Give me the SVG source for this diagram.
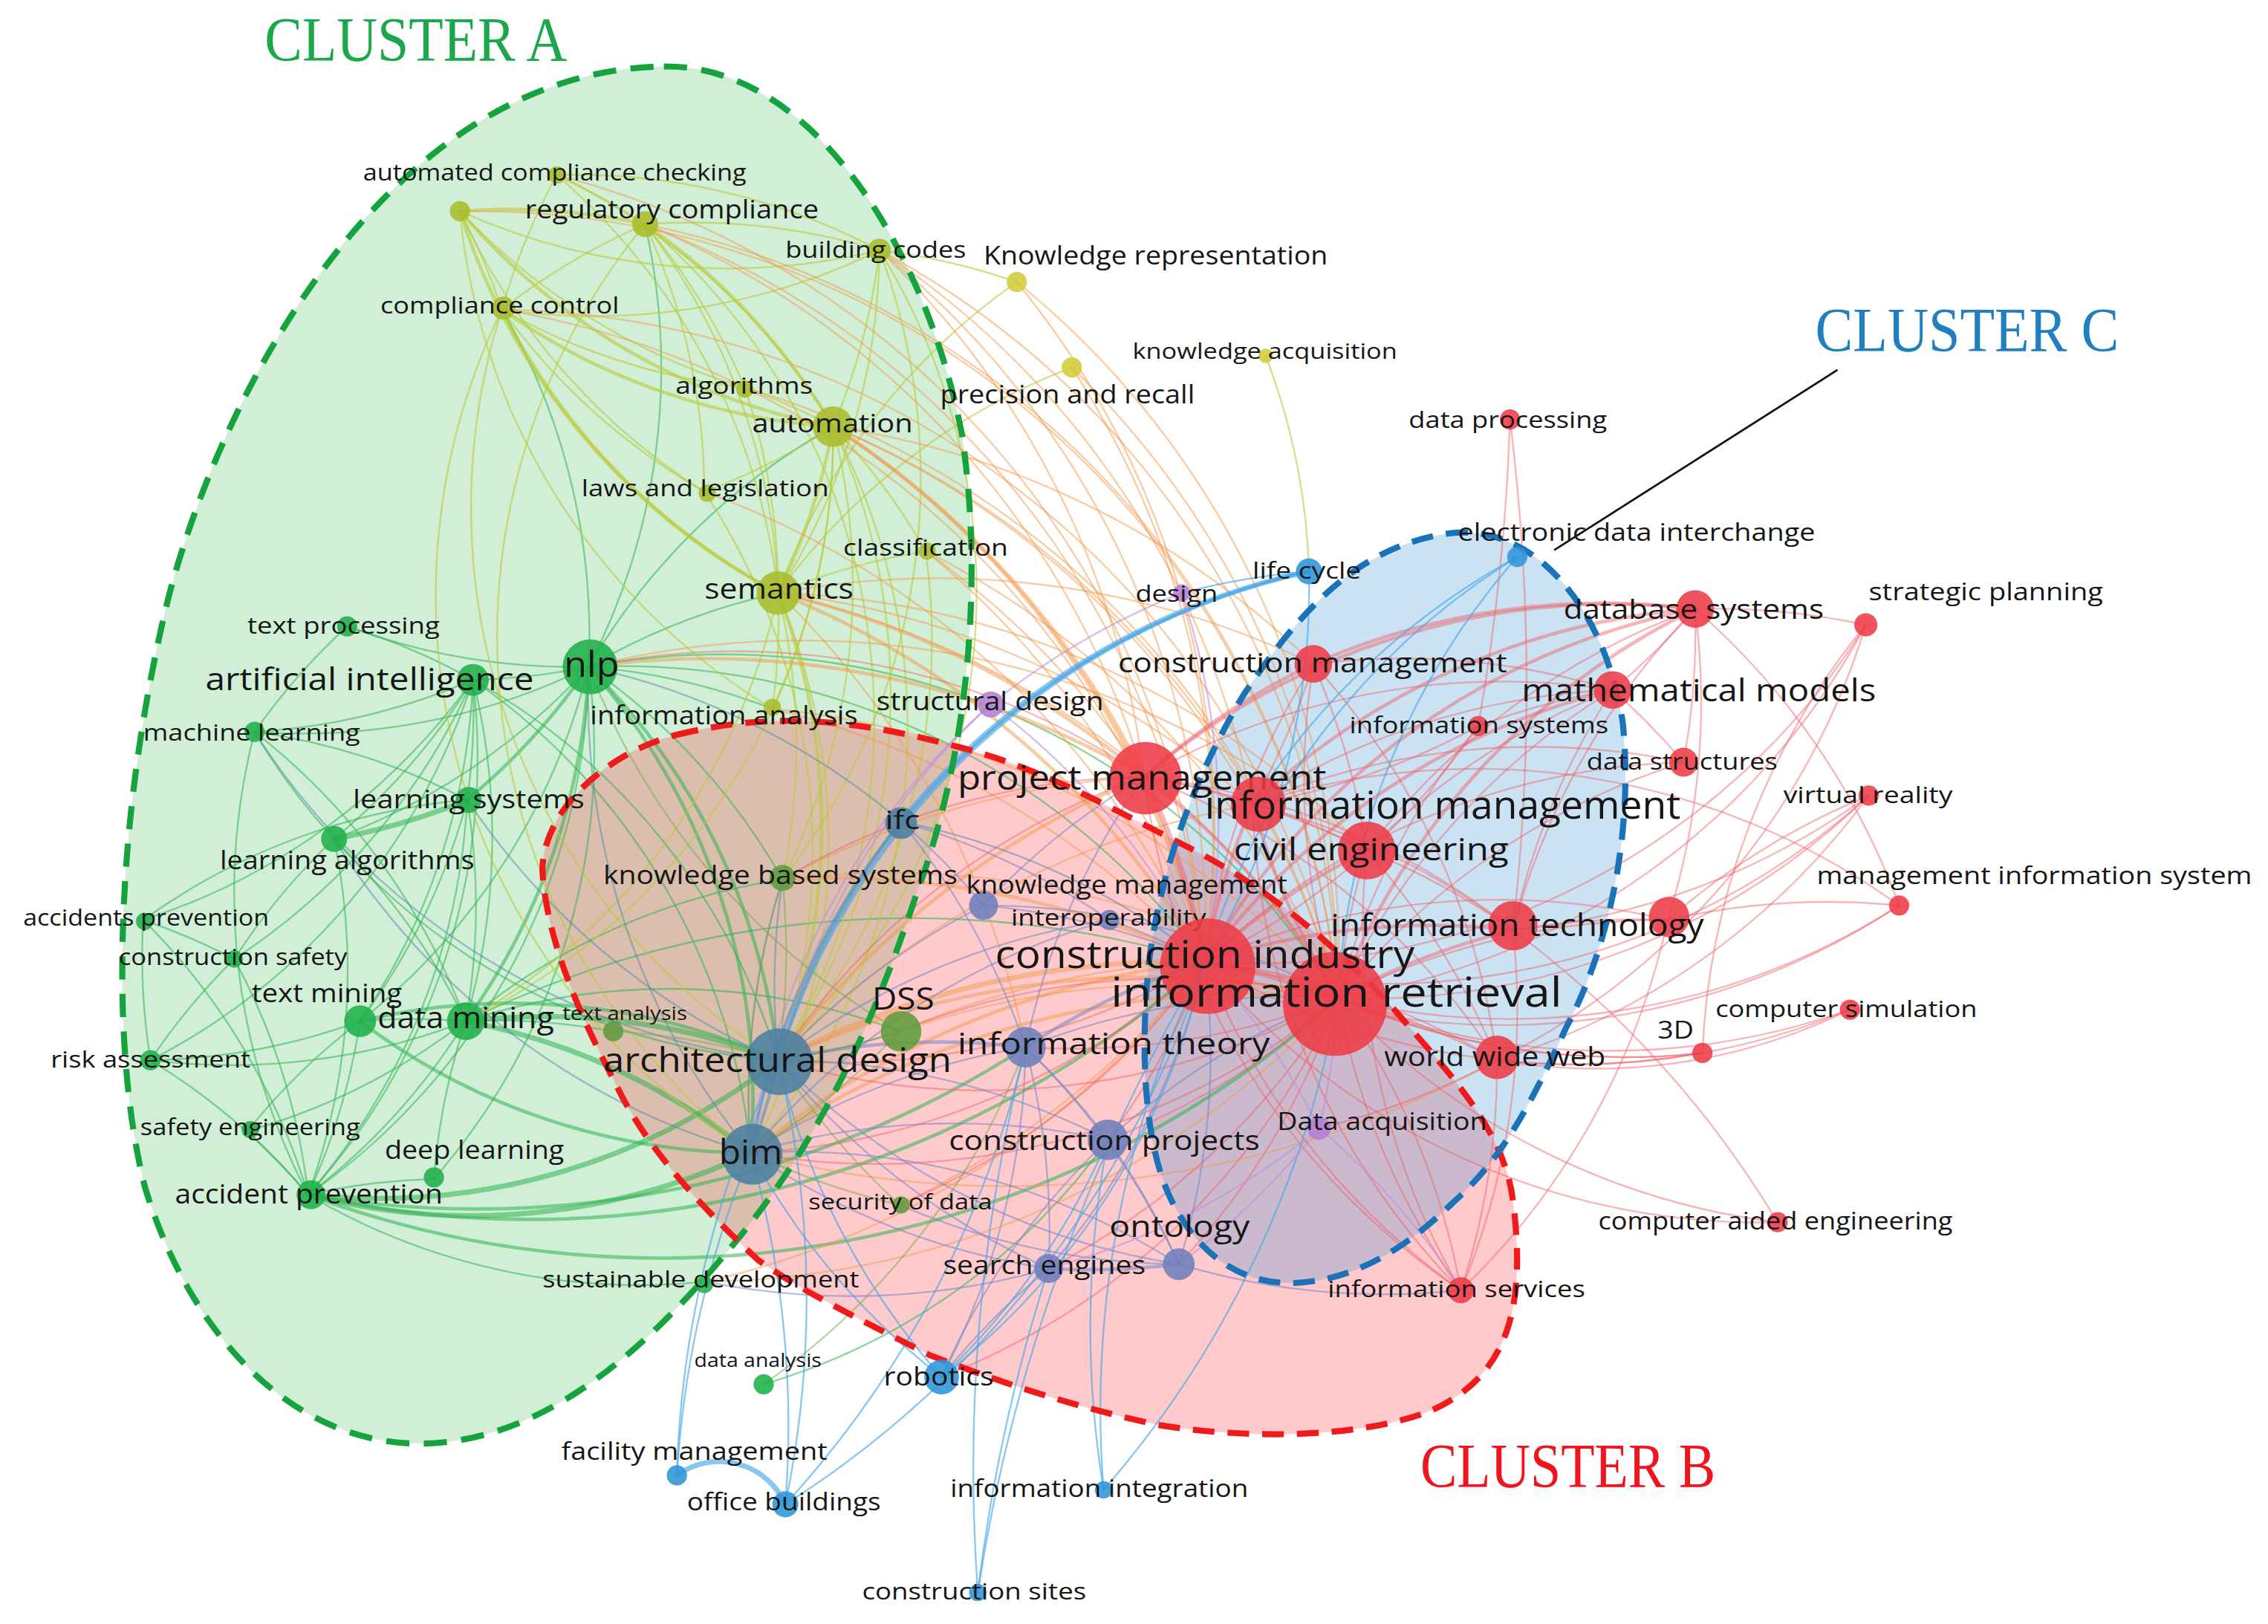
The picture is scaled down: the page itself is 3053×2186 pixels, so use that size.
<svg xmlns="http://www.w3.org/2000/svg" width="3053" height="2186" viewBox="0 0 3053 2186">
<style>
.l{font-family:"Open Sans","Liberation Sans",sans-serif;fill:#161616}
.cl{font-family:"Liberation Serif",serif}
.e path{fill:none;stroke-linecap:round;stroke-width:1.2}
.eg path{stroke:#2fb350;stroke-opacity:.55}
.ey path{stroke:#b9c93a;stroke-opacity:.6}
.eo path{stroke:#f19a4c;stroke-opacity:.5}
.er path{stroke:#f05a64;stroke-opacity:.45}
.es path{stroke:#7486c6;stroke-opacity:.55}
.est path{stroke:#4f88aa;stroke-opacity:.5}
.eb path{stroke:#4aa8e8;stroke-opacity:.65}
.ep path{stroke:#c08ee0;stroke-opacity:.6}
.eol path{stroke:#7aa84a;stroke-opacity:.5}
.e path.t2{stroke-width:2.4}
.e path.t3{stroke-width:3.6}
.cg{fill:#1fb04a}.cy{fill:#a9bd2b}.cyy{fill:#d2cc38}.co{fill:#5f9c3c}.cs{fill:#4b7fa0}
.cp{fill:#b47ed4}.cb{fill:#2c95d8}.csl{fill:#6d80bc}.cr{fill:#ee3b47}
circle{fill-opacity:.88}
.outline{fill:none;stroke-width:4.2}
</style>
<rect width="3053" height="2186" fill="#ffffff"/>
<g transform="scale(1.947)">
<g id="cluster-fills">
<path d="M459 46 C560 44 640 170 665 300 C680 400 670 520 634 617 C600 720 560 800 498 871 C440 940 370 998 290 998 C200 998 130 920 100 820 C75 720 80 560 117 411 C160 250 280 48 459 46 Z" fill="#2fb44a" fill-opacity=".22"/>
<path d="M468 508 C540 490 600 500 657 515 C720 530 770 560 822 586 C880 615 930 660 964 698 C1000 740 1040 780 1046 830 C1055 900 1045 950 990 975 C940 995 860 995 800 985 C740 972 690 955 643 937 C590 910 550 890 524 871 C480 830 445 790 426 750 C400 700 378 650 375 602 C375 560 420 520 468 508 Z" fill="#ff2a35" fill-opacity=".25"/>
<path d="M1000 369 C1060 360 1110 420 1122 500 C1130 580 1110 660 1083 710 C1060 760 1040 800 1005 831 C975 860 940 885 895 887 C860 888 830 870 810 830 C790 790 788 720 795 660 C805 590 830 530 860 480 C900 420 940 378 1000 369 Z" fill="#2e8bd0" fill-opacity=".25"/>
</g>
<g id="connectors" class="e">
<g class="eg">
<path d="M407 461A450 450 0 0 1 327 470"/><path d="M407 461A450 450 0 0 1 240 433"/><path d="M407 461A450 450 0 0 1 176 506"/>
<path d="M407 461A450 450 0 0 1 323 553" class="t2"/><path d="M407 461A450 450 0 0 1 231 580"/><path d="M407 461A450 450 0 0 1 322 706" class="t2"/>
<path d="M407 461A450 450 0 0 1 249 706"/><path d="M407 461A450 450 0 0 1 213 826"/><path d="M407 461A450 450 0 0 1 300 815"/>
<path d="M407 461A450 450 0 0 1 538 410"/><path d="M407 461A450 450 0 0 1 576 295"/><path d="M446 155A450 450 0 0 1 407 461"/>
<path d="M347 214A450 450 0 0 1 407 461"/><path d="M407 461A450 450 0 0 1 538 733" class="t2"/><path d="M407 461A450 450 0 0 1 519 797" class="t2"/>
<path d="M407 461A450 450 0 0 1 541 608"/><path d="M407 461A450 450 0 0 1 534 490"/><path d="M407 461A500 500 0 0 1 833 665"/>
<path d="M407 461A500 500 0 0 1 925 690"/><path d="M327 470A450 450 0 0 1 176 506"/><path d="M327 470A450 450 0 0 1 323 553"/>
<path d="M327 470A450 450 0 0 1 231 580"/><path d="M327 470A450 450 0 0 1 322 706"/><path d="M240 433A450 450 0 0 1 327 470"/>
<path d="M327 470A450 450 0 0 1 249 706"/><path d="M327 470A450 450 0 0 1 104 733"/><path d="M327 470A450 450 0 0 1 162 663"/>
<path d="M327 470A450 450 0 0 1 99 636"/><path d="M327 470A450 450 0 0 1 538 733"/><path d="M327 470A450 450 0 0 1 519 797"/>
<path d="M327 470A450 450 0 0 1 213 826"/><path d="M176 506A450 450 0 0 0 231 580"/><path d="M176 506A450 450 0 0 1 323 553"/>
<path d="M176 506A450 450 0 0 1 322 706"/><path d="M323 553A450 450 0 0 1 231 580" class="t3"/><path d="M323 553A450 450 0 0 1 322 706"/>
<path d="M323 553A450 450 0 0 1 249 706"/><path d="M231 580A450 450 0 0 1 322 706"/><path d="M249 706A450 450 0 0 1 322 706"/>
<path d="M322 706A450 450 0 0 1 213 826"/><path d="M322 706A450 450 0 0 1 171 782"/><path d="M322 706A450 450 0 0 1 104 733"/>
<path d="M322 706A450 450 0 0 1 538 733" class="t3"/><path d="M322 706A450 450 0 0 1 519 797" class="t3"/><path d="M322 706A450 450 0 0 1 424 713"/>
<path d="M249 706A450 450 0 0 1 213 826"/><path d="M249 706A450 450 0 0 1 104 733"/><path d="M104 733A450 450 0 0 1 213 826"/>
<path d="M171 782A450 450 0 0 1 213 826"/><path d="M162 663A450 450 0 0 1 213 826"/><path d="M99 636A450 450 0 0 1 213 826"/>
<path d="M213 826A450 450 0 0 0 538 733" class="t3"/><path d="M213 826A450 450 0 0 0 519 797" class="t3"/><path d="M213 826A450 450 0 0 1 300 815"/>
<path d="M300 815A450 450 0 0 1 322 706"/><path d="M104 733A450 450 0 0 1 162 663"/><path d="M99 636A450 450 0 0 1 162 663"/>
<path d="M99 636A450 450 0 0 1 323 553"/><path d="M162 663A450 450 0 0 1 231 580"/><path d="M171 782A450 450 0 0 1 249 706"/>
<path d="M249 706A450 450 0 0 1 538 733" class="t2"/><path d="M249 706A450 450 0 0 0 519 797" class="t2"/><path d="M322 706A450 450 0 0 1 622 713"/>
<path d="M213 826A450 450 0 0 0 488 886"/><path d="M322 706A450 450 0 0 1 541 608"/><path d="M231 580A450 450 0 0 0 538 733"/>
<path d="M213 826A700 700 0 0 0 925 690" class="t2"/><path d="M213 826A700 700 0 0 0 833 665" class="t2"/><path d="M322 706A700 700 0 0 1 833 665"/>
<path d="M176 506A450 450 0 0 0 213 826"/><path d="M240 433A450 450 0 0 0 176 506"/><path d="M323 553A450 450 0 0 1 213 826"/>
<path d="M231 580A450 450 0 0 1 213 826"/><path d="M99 636A450 450 0 0 0 104 733"/><path d="M213 826A700 700 0 0 0 709 724" class="t2"/>
<path d="M528 957A450 450 0 0 0 766 788"/>
</g>
<g class="ey">
<path d="M385 121A450 450 0 0 1 446 155"/><path d="M385 121A450 450 0 0 0 347 214"/><path d="M385 121A450 450 0 0 1 608 173"/>
<path d="M385 121A450 450 0 0 1 576 295"/><path d="M385 121A450 450 0 0 1 538 410"/><path d="M318 146A450 450 0 0 1 446 155" class="t2"/>
<path d="M318 146A450 450 0 0 1 347 214"/><path d="M318 146A450 450 0 0 0 576 295" class="t2"/><path d="M318 146A450 450 0 0 0 538 410" class="t2"/>
<path d="M318 146A450 450 0 0 0 487 340"/><path d="M318 146A450 450 0 0 0 608 173"/><path d="M318 146A450 450 0 0 0 515 268"/>
<path d="M318 146A450 450 0 0 0 534 490"/><path d="M446 155A450 450 0 0 1 608 173"/><path d="M446 155A450 450 0 0 0 347 214"/>
<path d="M446 155A450 450 0 0 1 576 295" class="t2"/><path d="M446 155A450 450 0 0 1 538 410"/><path d="M446 155A450 450 0 0 1 515 268"/>
<path d="M446 155A450 450 0 0 1 487 340"/><path d="M446 155A450 450 0 0 1 538 733"/><path d="M446 155A450 450 0 0 0 519 797"/>
<path d="M608 173A450 450 0 0 1 576 295"/><path d="M608 173A450 450 0 0 1 538 410"/><path d="M608 173A450 450 0 0 1 347 214"/>
<path d="M608 173A450 450 0 0 1 541 608"/><path d="M608 173A450 450 0 0 1 538 733"/><path d="M347 214A450 450 0 0 0 576 295" class="t2"/>
<path d="M347 214A450 450 0 0 0 487 340"/><path d="M347 214A450 450 0 0 0 538 410" class="t2"/><path d="M347 214A450 450 0 0 0 515 268"/>
<path d="M347 214A450 450 0 0 0 519 797"/><path d="M347 214A450 450 0 0 0 538 733"/><path d="M515 268A450 450 0 0 1 576 295"/>
<path d="M515 268A450 450 0 0 1 538 410"/><path d="M576 295A450 450 0 0 1 538 410" class="t2"/><path d="M576 295A450 450 0 0 1 487 340"/>
<path d="M576 295A450 450 0 0 1 640 381"/><path d="M576 295A450 450 0 0 1 538 733"/><path d="M576 295A450 450 0 0 1 519 797"/>
<path d="M576 295A450 450 0 0 1 534 490"/><path d="M576 295A450 450 0 0 1 541 608"/><path d="M538 410A450 450 0 0 1 534 490"/>
<path d="M538 410A450 450 0 0 1 640 381"/><path d="M538 410A450 450 0 0 1 538 733" class="t2"/><path d="M538 410A450 450 0 0 1 541 608"/>
<path d="M538 410A450 450 0 0 1 519 797"/><path d="M487 340A450 450 0 0 1 538 733"/><path d="M703 195A450 450 0 0 0 538 410"/>
<path d="M741 254A450 450 0 0 0 538 410"/><path d="M875 246A450 450 0 0 1 905 395"/><path d="M640 381A450 450 0 0 1 538 733"/>
<path d="M538 410A450 450 0 0 1 322 706"/><path d="M576 295A450 450 0 0 1 322 706"/><path d="M703 195A450 450 0 0 0 608 173"/>
</g>
<g class="eo">
<path d="M446 155A600 600 0 0 1 791 537"/><path d="M446 155A600 600 0 0 1 833 665"/><path d="M446 155A600 600 0 0 1 925 690"/>
<path d="M608 173A600 600 0 0 1 791 537"/><path d="M608 173A600 600 0 0 1 833 665"/><path d="M608 173A600 600 0 0 1 925 690"/>
<path d="M347 214A600 600 0 0 1 925 690"/><path d="M347 214A600 600 0 0 1 833 665"/><path d="M576 295A600 600 0 0 1 791 537" class="t2"/>
<path d="M576 295A600 600 0 0 1 833 665" class="t2"/><path d="M576 295A600 600 0 0 1 925 690"/><path d="M576 295A600 600 0 0 1 866 556"/>
<path d="M538 410A600 600 0 0 1 791 537" class="t2"/><path d="M538 410A600 600 0 0 1 833 665" class="t2"/><path d="M538 410A600 600 0 0 1 925 690"/>
<path d="M538 410A600 600 0 0 1 866 556"/><path d="M538 410A600 600 0 0 1 709 724"/><path d="M640 381A600 600 0 0 1 833 665"/>
<path d="M640 381A600 600 0 0 1 925 690"/><path d="M741 254A600 600 0 0 1 925 690"/><path d="M741 254A600 600 0 0 1 833 665"/>
<path d="M703 195A600 600 0 0 1 833 665"/><path d="M703 195A600 600 0 0 1 925 690"/><path d="M487 340A600 600 0 0 1 833 665"/>
<path d="M515 268A600 600 0 0 1 925 690"/><path d="M534 490A600 600 0 0 1 925 690"/><path d="M534 490A600 600 0 0 1 833 665"/>
<path d="M385 121A600 600 0 0 1 833 665"/><path d="M318 146A600 600 0 0 1 925 690"/><path d="M538 410A600 600 0 0 1 908 459"/>
<path d="M576 295A600 600 0 0 1 908 459"/><path d="M541 608A600 600 0 0 1 833 665" class="t2"/><path d="M541 608A600 600 0 0 1 925 690"/>
<path d="M622 713A600 600 0 0 1 833 665"/><path d="M622 713A600 600 0 0 1 925 690"/><path d="M538 733A600 600 0 0 1 833 665" class="t3"/>
<path d="M538 733A600 600 0 0 1 925 690" class="t2"/><path d="M519 797A600 600 0 0 1 925 690" class="t2"/><path d="M519 797A600 600 0 0 1 833 665" class="t2"/>
<path d="M538 733A600 600 0 0 1 791 537" class="t2"/><path d="M538 733A600 600 0 0 1 866 556"/><path d="M541 608A600 600 0 0 1 791 537"/>
<path d="M407 461A600 600 0 0 1 791 537" class="t2"/><path d="M538 410A600 600 0 0 1 945 588"/><path d="M608 173A600 600 0 0 1 866 556"/>
<path d="M640 381A600 600 0 0 1 791 537"/><path d="M622 833A600 600 0 0 0 833 665"/><path d="M488 886A600 600 0 0 0 925 690"/>
<path d="M488 886A600 600 0 0 0 833 665"/><path d="M407 461A600 600 0 0 1 945 588"/><path d="M519 797A700 700 0 0 0 1035 733"/>
</g>
<g class="er">
<path d="M791 537A500 500 0 0 1 833 665" class="t3"/><path d="M791 537A500 500 0 0 1 925 690" class="t2"/><path d="M791 537A500 500 0 0 1 866 556"/>
<path d="M791 537A500 500 0 0 1 945 588"/><path d="M791 537A500 500 0 0 1 908 459" class="t2"/><path d="M791 537A500 500 0 0 1 1046 643"/>
<path d="M791 537A500 500 0 0 1 1035 733"/><path d="M791 537A500 500 0 0 1 1172 421" class="t2"/><path d="M791 537A500 500 0 0 1 1115 477"/>
<path d="M833 665A500 500 0 0 1 925 690" class="t3"/><path d="M833 665A500 500 0 0 1 866 556" class="t2"/><path d="M833 665A500 500 0 0 1 945 588" class="t2"/>
<path d="M833 665A500 500 0 0 1 1046 643" class="t2"/><path d="M833 665A500 500 0 0 1 908 459"/><path d="M833 665A500 500 0 0 1 1172 421" class="t2"/>
<path d="M833 665A500 500 0 0 1 1115 477" class="t2"/><path d="M833 665A500 500 0 0 1 1035 733"/><path d="M833 665A500 500 0 0 1 1164 527"/>
<path d="M833 665A500 500 0 0 1 1153 636"/><path d="M925 690A500 500 0 0 1 866 556" class="t2"/><path d="M925 690A500 500 0 0 1 945 588"/>
<path d="M925 690A500 500 0 0 1 1046 643" class="t2"/><path d="M925 690A500 500 0 0 1 1035 733"/><path d="M925 690A500 500 0 0 1 1172 421" class="t2"/>
<path d="M925 690A500 500 0 0 1 1115 477"/><path d="M925 690A500 500 0 0 1 908 459"/><path d="M925 690A500 500 0 0 1 1022 502"/>
<path d="M925 690A500 500 0 0 1 1164 527"/><path d="M925 690A500 500 0 0 1 1010 892"/><path d="M925 690A500 500 0 0 1 1153 636"/>
<path d="M925 690A500 500 0 0 0 1177 728"/><path d="M866 556A500 500 0 0 1 945 588"/><path d="M866 556A500 500 0 0 1 1046 643"/>
<path d="M866 556A500 500 0 0 1 1172 421" class="t2"/><path d="M866 556A500 500 0 0 1 1115 477"/><path d="M866 556A500 500 0 0 1 1164 527"/>
<path d="M908 459A500 500 0 0 1 1172 421" class="t2"/><path d="M908 459A500 500 0 0 1 1115 477"/><path d="M908 459A500 500 0 0 1 866 556"/>
<path d="M908 459A500 500 0 0 1 945 588"/><path d="M945 588A500 500 0 0 1 1046 643"/><path d="M945 588A500 500 0 0 1 1172 421"/>
<path d="M945 588A500 500 0 0 1 1115 477"/><path d="M945 588A500 500 0 0 1 1035 733"/><path d="M1046 643A500 500 0 0 1 1172 421"/>
<path d="M1046 643A500 500 0 0 1 1115 477"/><path d="M1046 643A500 500 0 0 1 1153 636"/><path d="M1172 421A500 500 0 0 1 1115 477"/>
<path d="M1172 421A500 500 0 0 1 1290 432"/><path d="M1172 421A500 500 0 0 1 1164 527"/><path d="M1115 477A500 500 0 0 1 1164 527"/>
<path d="M1022 502A500 500 0 0 1 833 665"/><path d="M1022 502A500 500 0 0 1 866 556"/><path d="M1044 290A1500 1500 0 0 1 1022 502"/>
<path d="M1044 290A1500 1500 0 0 1 1046 643"/><path d="M1290 432A500 500 0 0 1 925 690"/><path d="M1290 432A500 500 0 0 1 833 665"/>
<path d="M1290 432A500 500 0 0 1 1035 733"/><path d="M1292 550A500 500 0 0 1 833 665"/><path d="M1292 550A500 500 0 0 1 925 690"/>
<path d="M1292 550A500 500 0 0 1 1046 643"/><path d="M1292 550A500 500 0 0 1 1035 733"/><path d="M1313 626A500 500 0 0 1 833 665"/>
<path d="M1313 626A500 500 0 0 1 925 690"/><path d="M1313 626A500 500 0 0 0 866 556"/><path d="M1313 626A500 500 0 0 0 1172 421"/>
<path d="M1279 698A500 500 0 0 1 1177 728"/><path d="M1279 698A400 400 0 0 1 1035 733"/><path d="M1279 698A500 500 0 0 1 925 690"/>
<path d="M1177 728A500 500 0 0 1 925 690"/><path d="M1177 728A500 500 0 0 1 833 665"/><path d="M1177 728A500 500 0 0 1 1035 733"/>
<path d="M1229 845A500 500 0 0 1 925 690"/><path d="M1229 845A500 500 0 0 1 833 665"/><path d="M1229 845A700 700 0 0 0 1046 643"/>
<path d="M1010 892A500 500 0 0 1 925 690"/><path d="M1010 892A500 500 0 0 1 833 665"/><path d="M1010 892A500 500 0 0 1 945 588"/>
<path d="M1010 892A500 500 0 0 1 866 556"/><path d="M1010 892A500 500 0 0 0 1046 643"/><path d="M1010 892A500 500 0 0 1 791 537"/>
<path d="M1010 892A500 500 0 0 0 1035 733"/><path d="M1010 892A500 500 0 0 0 1153 636"/><path d="M791 537A500 500 0 0 0 538 733"/>
<path d="M791 537A500 500 0 0 0 407 461"/><path d="M925 690A500 500 0 0 1 538 733"/><path d="M833 665A500 500 0 0 1 538 733"/>
<path d="M833 665A500 500 0 0 1 519 797"/><path d="M925 690A500 500 0 0 1 519 797"/><path d="M925 690A500 500 0 0 0 622 713"/>
<path d="M833 665A500 500 0 0 1 622 833"/><path d="M925 690A500 500 0 0 1 651 952"/><path d="M791 537A500 500 0 0 0 541 608"/>
<path d="M925 690A500 500 0 0 1 766 788"/><path d="M925 690A500 500 0 0 1 709 724"/><path d="M833 665A500 500 0 0 1 766 788"/>
<path d="M925 690A500 500 0 0 1 815 874"/><path d="M925 690A500 500 0 0 1 725 877"/><path d="M1035 733A500 500 0 0 1 912 780"/>
<path d="M1153 636A500 500 0 0 1 1313 626"/><path d="M1153 636A500 500 0 0 0 1172 421"/><path d="M1290 432A500 500 0 0 0 1177 728"/>
<path d="M1292 550A500 500 0 0 0 1153 636"/><path d="M1022 502A500 500 0 0 1 1115 477"/><path d="M908 459A500 500 0 0 1 1035 733"/>
</g>
<g class="es">
<path d="M709 724A500 500 0 0 1 833 665" class="t2"/><path d="M709 724A500 500 0 0 0 538 733" class="t2"/><path d="M709 724A500 500 0 0 0 519 797"/>
<path d="M709 724A500 500 0 0 1 791 537"/><path d="M709 724A500 500 0 0 0 623 568"/><path d="M766 788A500 500 0 0 0 538 733"/>
<path d="M766 788A500 500 0 0 0 519 797"/><path d="M766 788A500 500 0 0 0 709 724"/><path d="M815 874A500 500 0 0 0 833 665"/>
<path d="M815 874A500 500 0 0 1 725 877" class="t2"/><path d="M815 874A500 500 0 0 0 766 788"/><path d="M815 874A500 500 0 0 0 709 724"/>
<path d="M815 874A500 500 0 0 1 538 733"/><path d="M815 874A500 500 0 0 0 1010 892"/><path d="M725 877A500 500 0 0 0 833 665"/>
<path d="M725 877A500 500 0 0 1 538 733"/><path d="M725 877A500 500 0 0 1 519 797"/><path d="M725 877A500 500 0 0 0 709 724"/>
<path d="M680 626A500 500 0 0 1 833 665"/><path d="M680 626A500 500 0 0 0 538 733"/><path d="M680 626A500 500 0 0 1 925 690"/>
<path d="M680 626A500 500 0 0 1 791 537"/><path d="M680 626A500 500 0 0 0 623 568"/><path d="M767 636A500 500 0 0 1 833 665"/>
<path d="M767 636A500 500 0 0 0 538 733"/><path d="M767 636A500 500 0 0 0 519 797"/><path d="M767 636A500 500 0 0 0 623 568"/>
<path d="M766 788A500 500 0 0 0 651 952"/><path d="M725 877A500 500 0 0 0 651 952"/><path d="M709 724A500 500 0 0 1 651 952"/>
<path d="M815 874A500 500 0 0 0 519 797"/><path d="M766 788A500 500 0 0 1 925 690"/><path d="M709 724A500 500 0 0 1 925 690"/>
<path d="M815 874A500 500 0 0 1 622 833"/><path d="M725 877A500 500 0 0 1 488 886"/>
</g>
<g class="est">
<path d="M623 568A500 500 0 0 0 538 733" class="t2"/><path d="M623 568A500 500 0 0 0 519 797" class="t2"/><path d="M623 568A500 500 0 0 1 833 665"/>
<path d="M538 733A500 500 0 0 1 519 797" class="t2"/><path d="M538 733A500 500 0 0 1 541 608"/><path d="M519 797A500 500 0 0 1 541 608"/>
<path d="M538 733A500 500 0 0 1 323 553"/><path d="M538 733A500 500 0 0 0 622 713"/><path d="M519 797A500 500 0 0 1 407 461"/>
<path d="M538 733A500 500 0 0 1 176 506"/><path d="M519 797A500 500 0 0 1 231 580"/><path d="M623 568A500 500 0 0 0 407 461"/>
</g>
<g class="eb">
<path d="M651 952A500 500 0 0 1 538 733"/><path d="M651 952A500 500 0 0 1 519 797"/><path d="M651 952A500 500 0 0 0 833 665"/>
<path d="M651 952A500 500 0 0 0 766 788"/><path d="M468 1020A50 50 0 0 1 543 1040" class="t3"/><path d="M468 1020A700 700 0 0 1 538 733"/>
<path d="M468 1020A700 700 0 0 1 519 797"/><path d="M543 1040A700 700 0 0 0 538 733"/><path d="M543 1040A700 700 0 0 0 519 797"/>
<path d="M543 1040A700 700 0 0 0 833 665"/><path d="M543 1040A700 700 0 0 0 709 724"/><path d="M763 1030A700 700 0 0 0 925 690"/>
<path d="M763 1030A700 700 0 0 1 833 665"/><path d="M763 1030A700 700 0 0 1 766 788"/><path d="M676 1101A1200 1200 0 0 1 725 877"/>
<path d="M676 1101A1200 1200 0 0 1 709 724"/><path d="M676 1101A1200 1200 0 0 1 833 665"/><path d="M905 395A500 500 0 0 0 623 568" class="t3"/>
<path d="M905 395A500 500 0 0 0 538 733" class="t2"/><path d="M905 395A500 500 0 0 0 519 797"/><path d="M905 395A500 500 0 0 1 833 665"/>
<path d="M1049 385A500 500 0 0 0 925 690"/><path d="M1049 385A500 500 0 0 0 833 665"/><path d="M905 395A500 500 0 0 0 817 410"/>
<path d="M1049 385A500 500 0 0 0 866 556"/>
</g>
<g class="ep">
<path d="M817 410A500 500 0 0 0 685 487"/><path d="M817 410A500 500 0 0 1 833 665"/><path d="M685 487A500 500 0 0 0 538 733"/>
<path d="M685 487A500 500 0 0 1 833 665"/><path d="M685 487A500 500 0 0 0 519 797"/><path d="M912 780A500 500 0 0 0 925 690"/>
<path d="M912 780A500 500 0 0 0 833 665"/><path d="M912 780A500 500 0 0 1 815 874"/><path d="M912 780A500 500 0 0 1 1010 892"/>
<path d="M912 780A500 500 0 0 1 725 877"/>
</g>
<g class="eol">
<path d="M622 713A500 500 0 0 1 538 733"/><path d="M622 713A500 500 0 0 1 519 797"/><path d="M622 713A500 500 0 0 1 407 461"/>
<path d="M424 713A500 500 0 0 1 538 733"/><path d="M622 833A500 500 0 0 1 538 733"/><path d="M622 833A500 500 0 0 1 519 797"/>
<path d="M541 608A500 500 0 0 1 538 733"/><path d="M541 608A500 500 0 0 0 519 797"/><path d="M528 957A500 500 0 0 0 709 724"/>
</g>
<path d="M1270 256L1075 380" style="stroke:#111;stroke-width:1.4"/>
</g>
<g id="cluster-outlines">
<path class="outline" d="M459 46 C560 44 640 170 665 300 C680 400 670 520 634 617 C600 720 560 800 498 871 C440 940 370 998 290 998 C200 998 130 920 100 820 C75 720 80 560 117 411 C160 250 280 48 459 46 Z" stroke="#14a33c" stroke-dasharray="16 10"/>
<path class="outline" d="M468 508 C540 490 600 500 657 515 C720 530 770 560 822 586 C880 615 930 660 964 698 C1000 740 1040 780 1046 830 C1055 900 1045 950 990 975 C940 995 860 995 800 985 C740 972 690 955 643 937 C590 910 550 890 524 871 C480 830 445 790 426 750 C400 700 378 650 375 602 C375 560 420 520 468 508 Z" stroke="#f01a1a" stroke-dasharray="15 9"/>
<path class="outline" d="M1000 369 C1060 360 1110 420 1122 500 C1130 580 1110 660 1083 710 C1060 760 1040 800 1005 831 C975 860 940 885 895 887 C860 888 830 870 810 830 C790 790 788 720 795 660 C805 590 830 530 860 480 C900 420 940 378 1000 369 Z" stroke="#1a73b8" stroke-dasharray="15 9"/>
</g>
<g id="nodes">
<g id="n-acc2"><circle class="cy" cx="318" cy="146" r="7"/></g>
<g id="n-acc"><circle class="cy" cx="385" cy="121" r="6"/><text class="l" x="251" y="125" font-size="16" textLength="265" lengthAdjust="spacingAndGlyphs">automated compliance checking</text></g>
<g id="n-reg"><circle class="cy" cx="446" cy="155" r="9"/><text class="l" x="363" y="151" font-size="18" textLength="203" lengthAdjust="spacingAndGlyphs">regulatory compliance</text></g>
<g id="n-bc"><circle class="cy" cx="608" cy="173" r="8"/><text class="l" x="543" y="178" font-size="16" textLength="125" lengthAdjust="spacingAndGlyphs">building codes</text></g>
<g id="n-kr"><circle class="cyy" cx="703" cy="195" r="7"/><text class="l" x="680" y="183" font-size="18" textLength="238" lengthAdjust="spacingAndGlyphs">Knowledge representation</text></g>
<g id="n-cc"><circle class="cy" cx="348" cy="213" r="8"/><text class="l" x="263" y="217" font-size="16" textLength="165" lengthAdjust="spacingAndGlyphs">compliance control</text></g>
<g id="n-alg"><circle class="cy" cx="515" cy="269" r="6"/><text class="l" x="467" y="272" font-size="16" textLength="95" lengthAdjust="spacingAndGlyphs">algorithms</text></g>
<g id="n-aut"><circle class="cy" cx="576" cy="295" r="14"/><text class="l" x="520" y="299" font-size="18" textLength="111" lengthAdjust="spacingAndGlyphs">automation</text></g>
<g id="n-pr"><circle class="cyy" cx="741" cy="254" r="7"/><text class="l" x="650" y="279" font-size="18" textLength="176" lengthAdjust="spacingAndGlyphs">precision and recall</text></g>
<g id="n-ka"><circle class="cyy" cx="875" cy="246" r="5"/><text class="l" x="783" y="248" font-size="15" textLength="183" lengthAdjust="spacingAndGlyphs">knowledge acquisition</text></g>
<g id="n-law"><circle class="cy" cx="489" cy="341" r="6"/><text class="l" x="402" y="343" font-size="16" textLength="171" lengthAdjust="spacingAndGlyphs">laws and legislation</text></g>
<g id="n-cls"><circle class="cy" cx="641" cy="381" r="6"/><text class="l" x="583" y="384" font-size="16" textLength="114" lengthAdjust="spacingAndGlyphs">classification</text></g>
<g id="n-sem"><circle class="cy" cx="538" cy="410" r="15"/><text class="l" x="487" y="414" font-size="20" textLength="103" lengthAdjust="spacingAndGlyphs">semantics</text></g>
<g id="n-ia"><circle class="cy" cx="534" cy="489" r="6"/><text class="l" x="408" y="501" font-size="18" textLength="185" lengthAdjust="spacingAndGlyphs">information analysis</text></g>
<g id="n-tp"><circle class="cg" cx="240" cy="433" r="7"/><text class="l" x="171" y="438" font-size="16" textLength="133" lengthAdjust="spacingAndGlyphs">text processing</text></g>
<g id="n-ai"><circle class="cg" cx="327" cy="470" r="11"/><text class="l" x="142" y="477" font-size="22" textLength="227" lengthAdjust="spacingAndGlyphs">artificial intelligence</text></g>
<g id="n-nlp"><circle class="cg" cx="408" cy="461" r="19"/><text class="l" x="390" y="468" font-size="24" textLength="38" lengthAdjust="spacingAndGlyphs">nlp</text></g>
<g id="n-ml"><circle class="cg" cx="176" cy="506" r="7"/><text class="l" x="99" y="512" font-size="16" textLength="150" lengthAdjust="spacingAndGlyphs">machine learning</text></g>
<g id="n-ls"><circle class="cg" cx="324" cy="553" r="9"/><text class="l" x="244" y="559" font-size="18" textLength="160" lengthAdjust="spacingAndGlyphs">learning systems</text></g>
<g id="n-la"><circle class="cg" cx="231" cy="580" r="9"/><text class="l" x="152" y="601" font-size="18" textLength="176" lengthAdjust="spacingAndGlyphs">learning algorithms</text></g>
<g id="n-ap1"><circle class="cg" cx="100" cy="637" r="6"/><text class="l" x="16" y="640" font-size="16" textLength="170" lengthAdjust="spacingAndGlyphs">accidents prevention</text></g>
<g id="n-cs"><circle class="cg" cx="162" cy="663" r="6"/><text class="l" x="82" y="667" font-size="16" textLength="158" lengthAdjust="spacingAndGlyphs">construction safety</text></g>
<g id="n-tm"><circle class="cg" cx="249" cy="706" r="11"/><text class="l" x="174" y="693" font-size="18" textLength="104" lengthAdjust="spacingAndGlyphs">text mining</text></g>
<g id="n-dm"><circle class="cg" cx="322" cy="706" r="13"/><text class="l" x="261" y="711" font-size="21" textLength="122" lengthAdjust="spacingAndGlyphs">data mining</text></g>
<g id="n-rsk"><circle class="cg" cx="104" cy="733" r="7"/><text class="l" x="35" y="738" font-size="16" textLength="138" lengthAdjust="spacingAndGlyphs">risk assessment</text></g>
<g id="n-se"><circle class="cg" cx="173" cy="781" r="6"/><text class="l" x="97" y="785" font-size="16" textLength="152" lengthAdjust="spacingAndGlyphs">safety engineering</text></g>
<g id="n-dl"><circle class="cg" cx="300" cy="814" r="7"/><text class="l" x="266" y="801" font-size="18" textLength="124" lengthAdjust="spacingAndGlyphs">deep learning</text></g>
<g id="n-ap"><circle class="cg" cx="215" cy="826" r="10"/><text class="l" x="121" y="832" font-size="19" textLength="185" lengthAdjust="spacingAndGlyphs">accident prevention</text></g>
<g id="n-sd"><circle class="cg" cx="487" cy="888" r="6"/><text class="l" x="375" y="890" font-size="16" textLength="219" lengthAdjust="spacingAndGlyphs">sustainable development</text></g>
<g id="n-da"><circle class="cg" cx="528" cy="957" r="7"/><text class="l" x="480" y="945" font-size="13" textLength="88" lengthAdjust="spacingAndGlyphs">data analysis</text></g>
<g id="n-kbs"><circle class="co" cx="541" cy="607" r="9"/><text class="l" x="417" y="611" font-size="18" textLength="245" lengthAdjust="spacingAndGlyphs">knowledge based systems</text></g>
<g id="n-ta"><circle class="co" cx="424" cy="713" r="7"/><text class="l" x="389" y="705" font-size="13" textLength="86" lengthAdjust="spacingAndGlyphs">text analysis</text></g>
<g id="n-dss"><circle class="co" cx="623" cy="713" r="14"/><text class="l" x="603" y="698" font-size="22" textLength="43" lengthAdjust="spacingAndGlyphs">DSS</text></g>
<g id="n-sod"><circle class="co" cx="623" cy="833" r="6"/><text class="l" x="559" y="836" font-size="15" textLength="127" lengthAdjust="spacingAndGlyphs">security of data</text></g>
<g id="n-ifc"><circle class="cs" cx="623" cy="569" r="11"/><text class="l" x="612" y="573" font-size="18" textLength="24" lengthAdjust="spacingAndGlyphs">ifc</text></g>
<g id="n-ad"><circle class="cs" cx="539" cy="734" r="23"/><text class="l" x="417" y="741" font-size="23" textLength="241" lengthAdjust="spacingAndGlyphs">architectural design</text></g>
<g id="n-bim"><circle class="cs" cx="520" cy="798" r="21"/><text class="l" x="497" y="805" font-size="23" textLength="44" lengthAdjust="spacingAndGlyphs">bim</text></g>
<g id="n-des"><circle class="cp" cx="817" cy="410" r="6"/><text class="l" x="785" y="416" font-size="16" textLength="57" lengthAdjust="spacingAndGlyphs">design</text></g>
<g id="n-sdn"><circle class="cp" cx="685" cy="487" r="9"/><text class="l" x="606" y="491" font-size="18" textLength="157" lengthAdjust="spacingAndGlyphs">structural design</text></g>
<g id="n-dacq"><circle class="cp" cx="912" cy="780" r="8"/><text class="l" x="883" y="781" font-size="17" textLength="145" lengthAdjust="spacingAndGlyphs">Data acquisition</text></g>
<g id="n-lc"><circle class="cb" cx="905" cy="395" r="9"/><text class="l" x="866" y="400" font-size="16" textLength="75" lengthAdjust="spacingAndGlyphs">life cycle</text></g>
<g id="n-edi"><circle class="cb" cx="1049" cy="385" r="7"/><text class="l" x="1008" y="374" font-size="17" textLength="247" lengthAdjust="spacingAndGlyphs">electronic data interchange</text></g>
<g id="n-rob"><circle class="cb" cx="651" cy="952" r="12"/><text class="l" x="611" y="958" font-size="18" textLength="76" lengthAdjust="spacingAndGlyphs">robotics</text></g>
<g id="n-fm"><circle class="cb" cx="468" cy="1020" r="7"/><text class="l" x="388" y="1009" font-size="17" textLength="184" lengthAdjust="spacingAndGlyphs">facility management</text></g>
<g id="n-ob"><circle class="cb" cx="543" cy="1040" r="9"/><text class="l" x="475" y="1044" font-size="17" textLength="134" lengthAdjust="spacingAndGlyphs">office buildings</text></g>
<g id="n-ii"><circle class="cb" cx="763" cy="1030" r="6"/><text class="l" x="657" y="1035" font-size="17" textLength="206" lengthAdjust="spacingAndGlyphs">information integration</text></g>
<g id="n-cst"><circle class="cb" cx="676" cy="1101" r="6"/><text class="l" x="596" y="1106" font-size="16" textLength="155" lengthAdjust="spacingAndGlyphs">construction sites</text></g>
<g id="n-km"><circle class="csl" cx="680" cy="626" r="10"/><text class="l" x="668" y="618" font-size="18" textLength="222" lengthAdjust="spacingAndGlyphs">knowledge management</text></g>
<g id="n-iop"><circle class="csl" cx="767" cy="636" r="7"/><text class="l" x="699" y="640" font-size="16" textLength="135" lengthAdjust="spacingAndGlyphs">interoperability</text></g>
<g id="n-it"><circle class="csl" cx="709" cy="724" r="14"/><text class="l" x="662" y="729" font-size="21" textLength="216" lengthAdjust="spacingAndGlyphs">information theory</text></g>
<g id="n-cp"><circle class="csl" cx="766" cy="788" r="14"/><text class="l" x="656" y="795" font-size="19" textLength="215" lengthAdjust="spacingAndGlyphs">construction projects</text></g>
<g id="n-ont"><circle class="csl" cx="815" cy="874" r="11"/><text class="l" x="767" y="855" font-size="21" textLength="97" lengthAdjust="spacingAndGlyphs">ontology</text></g>
<g id="n-seng"><circle class="csl" cx="725" cy="877" r="10"/><text class="l" x="652" y="881" font-size="18" textLength="140" lengthAdjust="spacingAndGlyphs">search engines</text></g>
<g id="n-dp"><circle class="cr" cx="1044" cy="290" r="7"/><text class="l" x="974" y="296" font-size="16" textLength="137" lengthAdjust="spacingAndGlyphs">data processing</text></g>
<g id="n-dbs"><circle class="cr" cx="1172" cy="421" r="13"/><text class="l" x="1081" y="428" font-size="19" textLength="180" lengthAdjust="spacingAndGlyphs">database systems</text></g>
<g id="n-sp"><circle class="cr" cx="1290" cy="432" r="8"/><text class="l" x="1292" y="415" font-size="17" textLength="162" lengthAdjust="spacingAndGlyphs">strategic planning</text></g>
<g id="n-cm"><circle class="cr" cx="908" cy="459" r="13"/><text class="l" x="773" y="465" font-size="19" textLength="269" lengthAdjust="spacingAndGlyphs">construction management</text></g>
<g id="n-mm"><circle class="cr" cx="1115" cy="477" r="13"/><text class="l" x="1052" y="485" font-size="22" textLength="245" lengthAdjust="spacingAndGlyphs">mathematical models</text></g>
<g id="n-is"><circle class="cr" cx="1022" cy="502" r="7"/><text class="l" x="933" y="507" font-size="16" textLength="179" lengthAdjust="spacingAndGlyphs">information systems</text></g>
<g id="n-ds"><circle class="cr" cx="1164" cy="527" r="10"/><text class="l" x="1097" y="532" font-size="16" textLength="132" lengthAdjust="spacingAndGlyphs">data structures</text></g>
<g id="n-pm"><circle class="cr" cx="792" cy="538" r="25"/><text class="l" x="662" y="546" font-size="23" textLength="255" lengthAdjust="spacingAndGlyphs">project management</text></g>
<g id="n-vr"><circle class="cr" cx="1292" cy="550" r="7"/><text class="l" x="1233" y="555" font-size="16" textLength="117" lengthAdjust="spacingAndGlyphs">virtual reality</text></g>
<g id="n-ce"><circle class="cr" cx="945" cy="588" r="20"/><text class="l" x="853" y="595" font-size="22" textLength="190" lengthAdjust="spacingAndGlyphs">civil engineering</text></g>
<g id="n-mis"><circle class="cr" cx="1313" cy="626" r="7"/><text class="l" x="1256" y="611" font-size="17" textLength="301" lengthAdjust="spacingAndGlyphs">management information system</text></g>
<g id="n-itc2"><circle class="cr" cx="1154" cy="634" r="14"/></g>
<g id="n-itc"><circle class="cr" cx="1046" cy="640" r="17"/><text class="l" x="920" y="647" font-size="22" textLength="258" lengthAdjust="spacingAndGlyphs">information technology</text></g>
<g id="n-ci"><circle class="cr" cx="835" cy="668" r="33"/></g>
<g id="n-ir"><circle class="cr" cx="923" cy="694" r="36"/></g>
<g id="n-im"><circle class="cr" cx="870" cy="556" r="19"/><text class="l" x="833" y="566" font-size="26" textLength="329" lengthAdjust="spacingAndGlyphs">information management</text></g>
<g id="n-ci-label"><text class="l" x="688" y="669" font-size="26" textLength="290" lengthAdjust="spacingAndGlyphs">construction industry</text></g>
<g id="n-ir-label"><text class="l" x="768" y="696" font-size="28" textLength="312" lengthAdjust="spacingAndGlyphs">information retrieval</text></g>
<g id="n-csim"><circle class="cr" cx="1279" cy="698" r="7"/><text class="l" x="1186" y="703" font-size="16" textLength="181" lengthAdjust="spacingAndGlyphs">computer simulation</text></g>
<g id="n-d3"><circle class="cr" cx="1177" cy="728" r="7"/><text class="l" x="1146" y="718" font-size="17" textLength="25" lengthAdjust="spacingAndGlyphs">3D</text></g>
<g id="n-www"><circle class="cr" cx="1035" cy="731" r="15"/><text class="l" x="957" y="737" font-size="19" textLength="153" lengthAdjust="spacingAndGlyphs">world wide web</text></g>
<g id="n-cae"><circle class="cr" cx="1229" cy="845" r="7"/><text class="l" x="1105" y="850" font-size="17" textLength="245" lengthAdjust="spacingAndGlyphs">computer aided engineering</text></g>
<g id="n-isv"><circle class="cr" cx="1010" cy="892" r="9"/><text class="l" x="918" y="897" font-size="16" textLength="178" lengthAdjust="spacingAndGlyphs">information services</text></g>
</g>
<g id="cluster-labels">
<text class="cl" x="183" y="42" font-size="44" fill="#1aa84a" textLength="209" lengthAdjust="spacingAndGlyphs">CLUSTER A</text>
<text class="cl" x="1255" y="243" font-size="44" fill="#1f7fc0" textLength="210" lengthAdjust="spacingAndGlyphs">CLUSTER C</text>
<text class="cl" x="982" y="1028" font-size="44" fill="#f0141e" textLength="204" lengthAdjust="spacingAndGlyphs">CLUSTER B</text>
</g>
</g>
</svg>
